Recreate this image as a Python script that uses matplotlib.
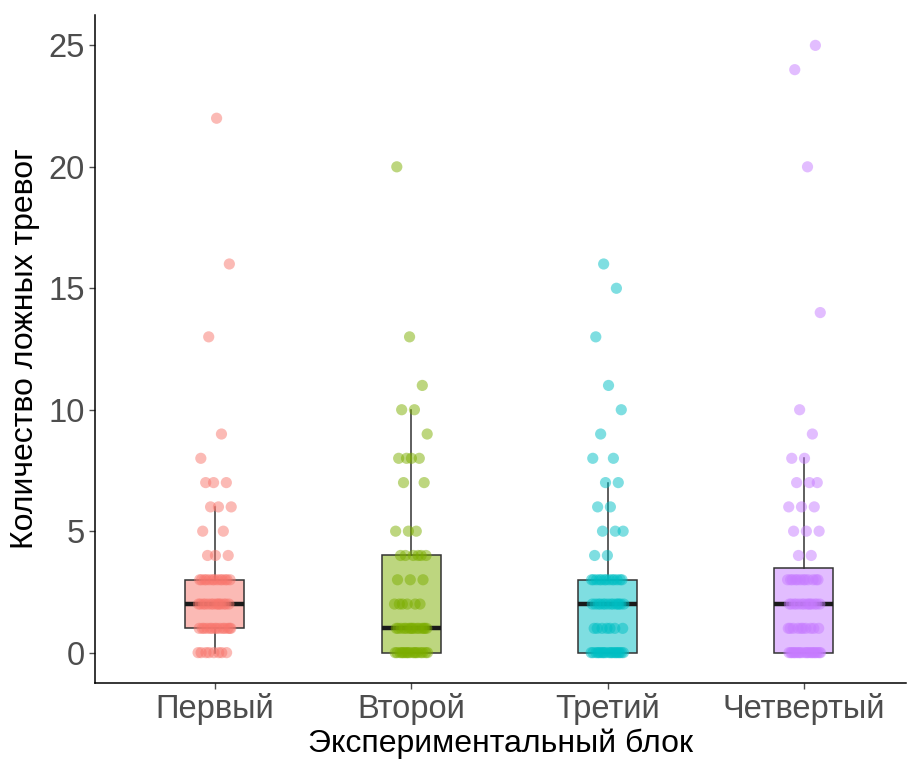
import numpy as np
import matplotlib
matplotlib.use("Agg")
import matplotlib.pyplot as plt

plt.rcParams['font.family'] = ['Liberation Sans', 'DejaVu Sans']

# data: value -> count per block
blocks = ["Первый", "Второй", "Третий", "Четвертый"]
values_1 = [0, 1, 2, 3, 4, 5, 6, 7, 8, 9, 13, 16, 22]
counts_1 = [8, 14, 14, 13, 3, 2, 3, 3, 1, 1, 1, 1, 1]
values_2 = [0, 1, 2, 3, 4, 5, 7, 8, 9, 10, 11, 13, 20]
counts_2 = [17, 15, 6, 3, 6, 3, 2, 4, 1, 2, 1, 1, 1]
values_3 = [0, 1, 2, 3, 4, 5, 6, 7, 8, 9, 10, 11, 13, 15, 16]
counts_3 = [19, 7, 14, 13, 2, 3, 2, 2, 2, 1, 1, 1, 1, 1, 1]
values_4 = [0, 1, 2, 3, 4, 5, 6, 7, 8, 9, 10, 14, 20, 24, 25]
counts_4 = [20, 10, 14, 12, 2, 3, 3, 3, 2, 1, 1, 1, 1, 1, 1]
colors = ["#F8766D", "#7CAE00", "#00BFC4", "#C77CFF"]

groups = [np.repeat(values_1, counts_1),
          np.repeat(values_2, counts_2),
          np.repeat(values_3, counts_3),
          np.repeat(values_4, counts_4)]

fig = plt.figure(figsize=(9.07, 7.63), dpi=100)
ax = fig.add_axes([95 / 907, 80 / 763, 811 / 907, 668 / 763])

positions = np.arange(1, 5)
bp = ax.boxplot(groups, positions=positions, widths=0.3, patch_artist=True,
                showfliers=False, showcaps=False, whis=1.5,
                medianprops=dict(color="#1a1a1a", linewidth=3.2),
                whiskerprops=dict(color="#333333", linewidth=1.1),
                boxprops=dict(edgecolor="#333333", linewidth=1.1))
for patch, c in zip(bp['boxes'], colors):
    patch.set_facecolor(matplotlib.colors.to_rgba(c, 0.5))
    patch.set_zorder(1)
for line in bp['medians']:
    line.set_zorder(2)

# deterministic jitter
for g, (vals, c) in enumerate(zip(groups, colors)):
    idx = np.arange(len(vals))
    off = (np.mod(idx * 0.618034 + g * 0.37, 1.0) - 0.5) * 2 * 0.085
    ax.scatter(positions[g] + off, vals, s=65, color=c, alpha=0.5,
               edgecolors='none', zorder=3)

ax.set_xlim(0.39, 4.52)
ax.set_ylim(-1.25, 26.25)
ax.set_yticks([0, 5, 10, 15, 20, 25])
ax.set_xticks(positions)
ax.set_xticklabels(blocks)
ax.tick_params(axis='both', labelsize=23.5, colors='#4D4D4D', length=4,
               width=1, labelcolor='#4D4D4D')
for s in ['top', 'right']:
    ax.spines[s].set_visible(False)
for s in ['left', 'bottom']:
    ax.spines[s].set_linewidth(1.1)
    ax.spines[s].set_color('black')

ax.set_xlabel("Экспериментальный блок", fontsize=23, labelpad=2)
ax.set_ylabel("Количество ложных тревог", fontsize=23, labelpad=6)

fig.savefig("out.png", dpi=100)
